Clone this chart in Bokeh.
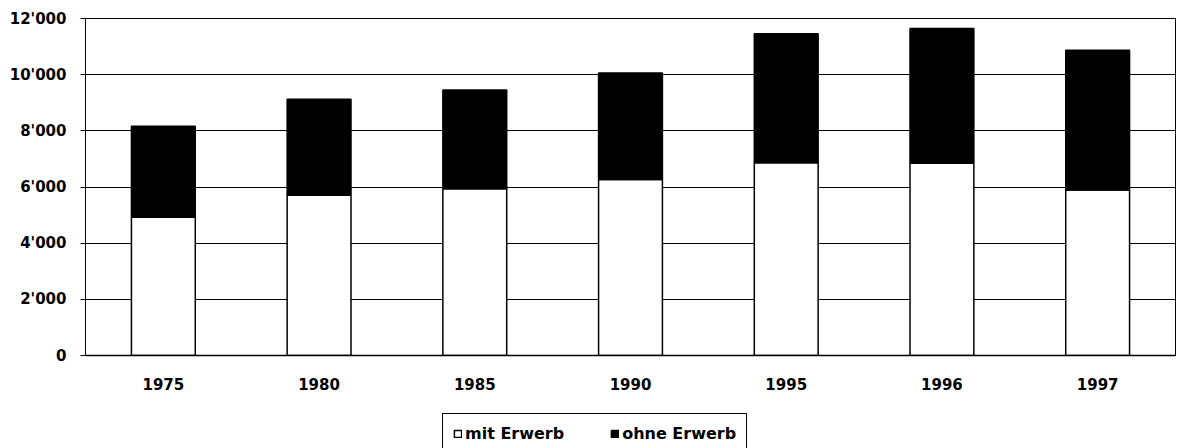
from bokeh.plotting import figure
from bokeh.models import (Range1d, FixedTicker, Legend, LegendItem,
                          ColumnDataSource, FactorRange)
from bokeh.layouts import column
from bokeh.embed import file_html
from bokeh.resources import INLINE

# ---- data ----
years = ["1975", "1980", "1985", "1990", "1995", "1996", "1997"]
mit_erwerb = [4920, 5710, 5940, 6270, 6860, 6850, 5890]
ohne_erwerb = [3240, 3415, 3510, 3790, 4600, 4790, 4980]
series_names = ["mit Erwerb", "ohne Erwerb"]
y_ticks = [0, 2000, 4000, 6000, 8000, 10000, 12000]
y_tick_labels = ["0", "2'000", "4'000", "6'000", "8'000", "10'000", "12'000"]

FONT = "DejaVu Sans"
colors = ["white", "black"]

p = figure(x_range=FactorRange(*years, range_padding=0),
           y_range=Range1d(0, 12000),
           width=1177, height=400,
           output_backend="svg", toolbar_location=None,
           min_border_left=85, min_border_right=2,
           min_border_top=18, min_border_bottom=45)
p.background_fill_color = "white"
p.border_fill_color = "white"
p.outline_line_color = "black"
p.outline_line_alpha = 1
p.outline_line_width = 1

src = ColumnDataSource(dict(year=years, mit=mit_erwerb, ohne=ohne_erwerb))
rs = p.vbar_stack(["mit", "ohne"], x="year", width=0.41, source=src,
                  fill_color=colors, line_color="black", line_width=1.5)

# grids
p.xgrid.grid_line_color = None
p.ygrid.grid_line_color = "black"
p.ygrid.grid_line_alpha = 1
p.ygrid.grid_line_width = 1

# y axis
p.yaxis.ticker = FixedTicker(ticks=y_ticks)
p.yaxis.major_label_overrides = {t: l for t, l in zip(y_ticks, y_tick_labels)}
p.yaxis.minor_tick_line_color = None
p.yaxis.major_tick_in = 0
p.yaxis.major_tick_out = 5
p.yaxis.major_tick_line_color = "black"
p.yaxis.axis_line_color = "black"
p.yaxis.major_label_standoff = 14
p.yaxis.major_label_text_font = FONT
p.yaxis.major_label_text_font_style = "bold"
p.yaxis.major_label_text_font_size = "15px"
p.yaxis.major_label_text_color = "black"

# x axis
p.xaxis.major_tick_line_color = None
p.xaxis.minor_tick_line_color = None
p.xaxis.axis_line_color = "black"
p.xaxis.axis_line_width = 1.5
p.xaxis.major_label_standoff = 16
p.xaxis.major_label_text_font = FONT
p.xaxis.major_label_text_font_style = "bold"
p.xaxis.major_label_text_font_size = "15px"
p.xaxis.major_label_text_color = "black"

# ---- legend strip below the chart ----
lf = figure(x_range=Range1d(0, 1), y_range=Range1d(0, 1),
            width=1177, height=54, output_backend="svg",
            toolbar_location=None, x_axis_location=None,
            y_axis_location=None, min_border=0)
lf.outline_line_color = None
lf.grid.grid_line_color = None
lf.background_fill_color = "white"
lf.border_fill_color = "white"
lrs = lf.vbar_stack(["mit", "ohne"], x="year", width=0.41, source=src,
                    fill_color=colors, line_color="black", line_width=1.5,
                    visible=False)

legend = Legend(items=[LegendItem(label=series_names[0], renderers=[lrs[0]]),
                       LegendItem(label=series_names[1], renderers=[lrs[1]])],
                orientation="horizontal",
                location=(357, 0))
legend.border_line_color = "black"
legend.border_line_width = 1
legend.border_line_alpha = 1
legend.background_fill_color = "white"
legend.background_fill_alpha = 1
legend.inactive_fill_alpha = 0
legend.padding = 10
legend.margin = 0
legend.spacing = 46
legend.glyph_width = 9
legend.glyph_height = 9
legend.label_standoff = 3
legend.label_height = 16
legend.label_text_font = FONT
legend.label_text_font_style = "bold"
legend.label_text_font_size = "16px"
legend.label_text_color = "black"
lf.add_layout(legend, "center")

open("out.html", "w").write(file_html(column(p, lf), INLINE))
